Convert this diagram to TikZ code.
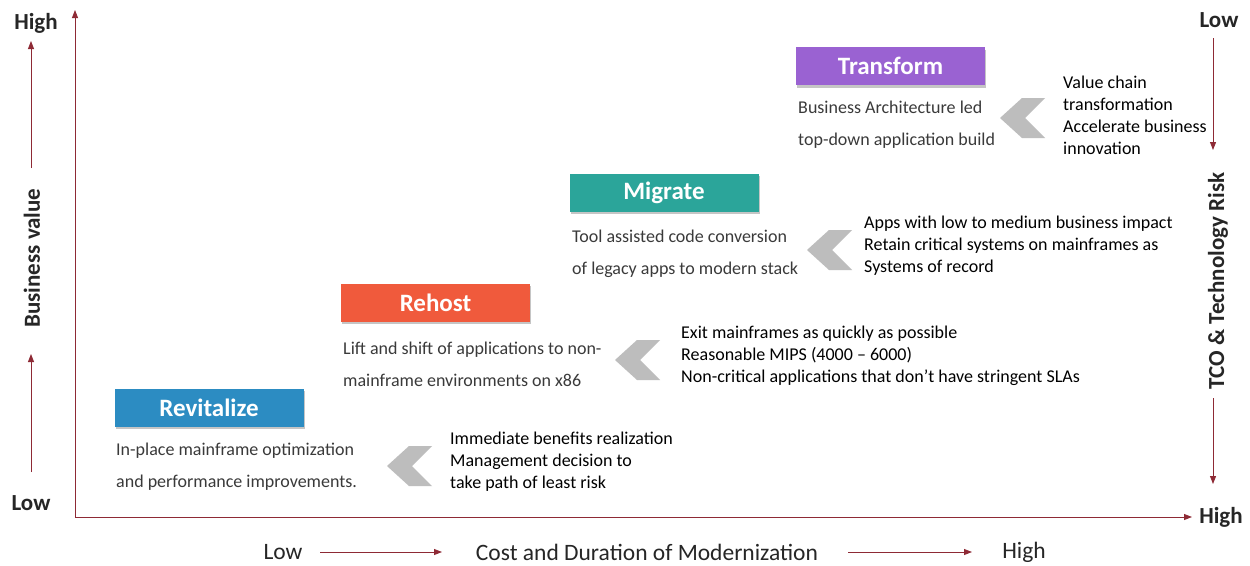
\documentclass[tikz,border=0pt]{standalone}
\usepackage{fontspec}
\setmainfont{Carlito}
\usetikzlibrary{arrows.meta,shadows,positioning}
\definecolor{axred}{HTML}{8E2A35}
\definecolor{chevgray}{HTML}{BDBDBD}
\definecolor{descgray}{HTML}{3A3A3A}
\definecolor{colTransform}{HTML}{9A62D2}
\definecolor{colMigrate}{HTML}{2BA59A}
\definecolor{colRehost}{HTML}{F05A3C}
\definecolor{colRevital}{HTML}{2C8CC2}
\tikzset{
    phase/.style =  {rectangle,
                    minimum width=189pt,
                    minimum height=38pt,
                    inner sep=0pt,
                    text=white,
                    font=\fontsize{25}{28}\selectfont\bfseries,
                    drop shadow={shadow xshift=1pt,
                                 shadow yshift=-2.5pt,
                                 opacity=0.45}},
    desc/.style =   {anchor=west,
                    align=left,
                    inner sep=0pt,
                    text=descgray,
                    font=\fontsize{18}{32}\selectfont},
    why/.style =    {anchor=north west,
                    align=left,
                    inner sep=0pt,
                    text=black,
                    font=\fontsize{18}{22}\selectfont},
    chev/.style =   {fill=chevgray,
                    draw=none},
    axis/.style =   {draw=axred,
                    line width=0.9pt,
                    -{Triangle[length=8pt,width=6pt]}},
    axlabel/.style = {inner sep=0pt,
                    text=black!85,
                    font=\fontsize{23}{26}\selectfont\bfseries},
    costlabel/.style = {inner sep=0pt,
                    text=black!85,
                    font=\fontsize{23.5}{26}\selectfont}
}

\begin{document}
\begin{tikzpicture}[x=1pt,y=-1pt]
    \useasboundingbox[fill=white] (0,0) rectangle (1250,565);

    % main axes
    \coordinate (origin) at (75,517);
    \coordinate (ytop)   at (75,10);
    \coordinate (xend)   at (1192,517);
    \draw[axis] (origin) -- (ytop);
    \draw[axis] (origin) -- (xend);

    % left scale: business value
    \node[axlabel] (vhigh) at (36,23)  {High};
    \node[axlabel] (vlow)  at (31,503) {Low};
    \node[axlabel,rotate=90] (vname) at (32,258) {Business value};
    \coordinate (vlowA)  at (31,472);
    \coordinate (vlowB)  at (31,354);
    \coordinate (vhighA) at (31,168);
    \coordinate (vhighB) at (31,41);
    \draw[axis] (vlowA) -- (vlowB);
    \draw[axis] (vhighA) -- (vhighB);

    % right scale: TCO & technology risk
    \node[axlabel] (rlow)  at (1219,20)  {Low};
    \node[axlabel] (rhigh) at (1221,517) {High};
    \node[axlabel,rotate=90] (rname) at (1218,281) {TCO \& Technology Risk};
    \coordinate (rlowA)  at (1213,38);
    \coordinate (rlowB)  at (1213,150);
    \coordinate (rhighA) at (1213,398);
    \coordinate (rhighB) at (1213,484);
    \draw[axis] (rlowA) -- (rlowB);
    \draw[axis] (rhighA) -- (rhighB);

    % bottom scale: cost and duration
    \node[costlabel] (clow)  at (283,552)  {Low};
    \node[costlabel] (cname) at (647,552)  {Cost and Duration of Modernization};
    \node[costlabel] (chigh) at (1024,552) {High};
    \coordinate (cA) at (320,552);
    \coordinate (cB) at (442,552);
    \coordinate (cC) at (848,552);
    \coordinate (cD) at (972,552);
    \draw[axis] (cA) -- (cB);
    \draw[axis] (cC) -- (cD);

    % the four phases
    \node[phase,fill=colTransform] (transform) at (890.5,66)  {Transform};
    \node[phase,fill=colMigrate]   (migrate)   at (664,192.5) {Migrate};
    \node[phase,fill=colRehost]    (rehost)    at (435.5,302.5) {Rehost};
    \node[phase,fill=colRevital]   (revital)   at (209,407.5) {Revitalize};

    \node[desc] (transformD) at (798,125) {Business Architecture led\\top-down application build};
    \node[desc] (migrateD)   at (572,254) {Tool assisted code conversion\\of legacy apps to modern stack};
    \node[desc] (rehostD)    at (343,364) {Lift and shift of applications to non-\\mainframe environments on x86};
    \node[desc] (revitalD)   at (116,467) {In-place mainframe optimization\\and performance improvements.};

    \node[why] (transformW) at (1063,76)  {Value chain\\transformation\\Accelerate business\\innovation};
    \node[why] (migrateW)   at (864,216)  {Apps with low to medium business impact\\Retain critical systems on mainframes as\\Systems of record};
    \node[why] (rehostW)    at (681,326)  {Exit mainframes as quickly as possible\\Reasonable MIPS (4000 -- 6000)\\Non-critical applications that don't have stringent SLAs};
    \node[why] (revitalW)   at (450,432)  {Immediate benefits realization\\Management decision to\\take path of least risk};

    % chevrons
    \coordinate (chT) at (1000,118);
    \coordinate (chM) at (807,250);
    \coordinate (chR) at (615,360);
    \coordinate (chV) at (387,466);
    \foreach \c in {chT,chM,chR,chV}
        \fill[chev] (\c) -- ++(22,-20) -- ++(23,0) -- ++(-20,20) -- ++(20,20) -- ++(-23,0) -- cycle;
\end{tikzpicture}
\end{document}
